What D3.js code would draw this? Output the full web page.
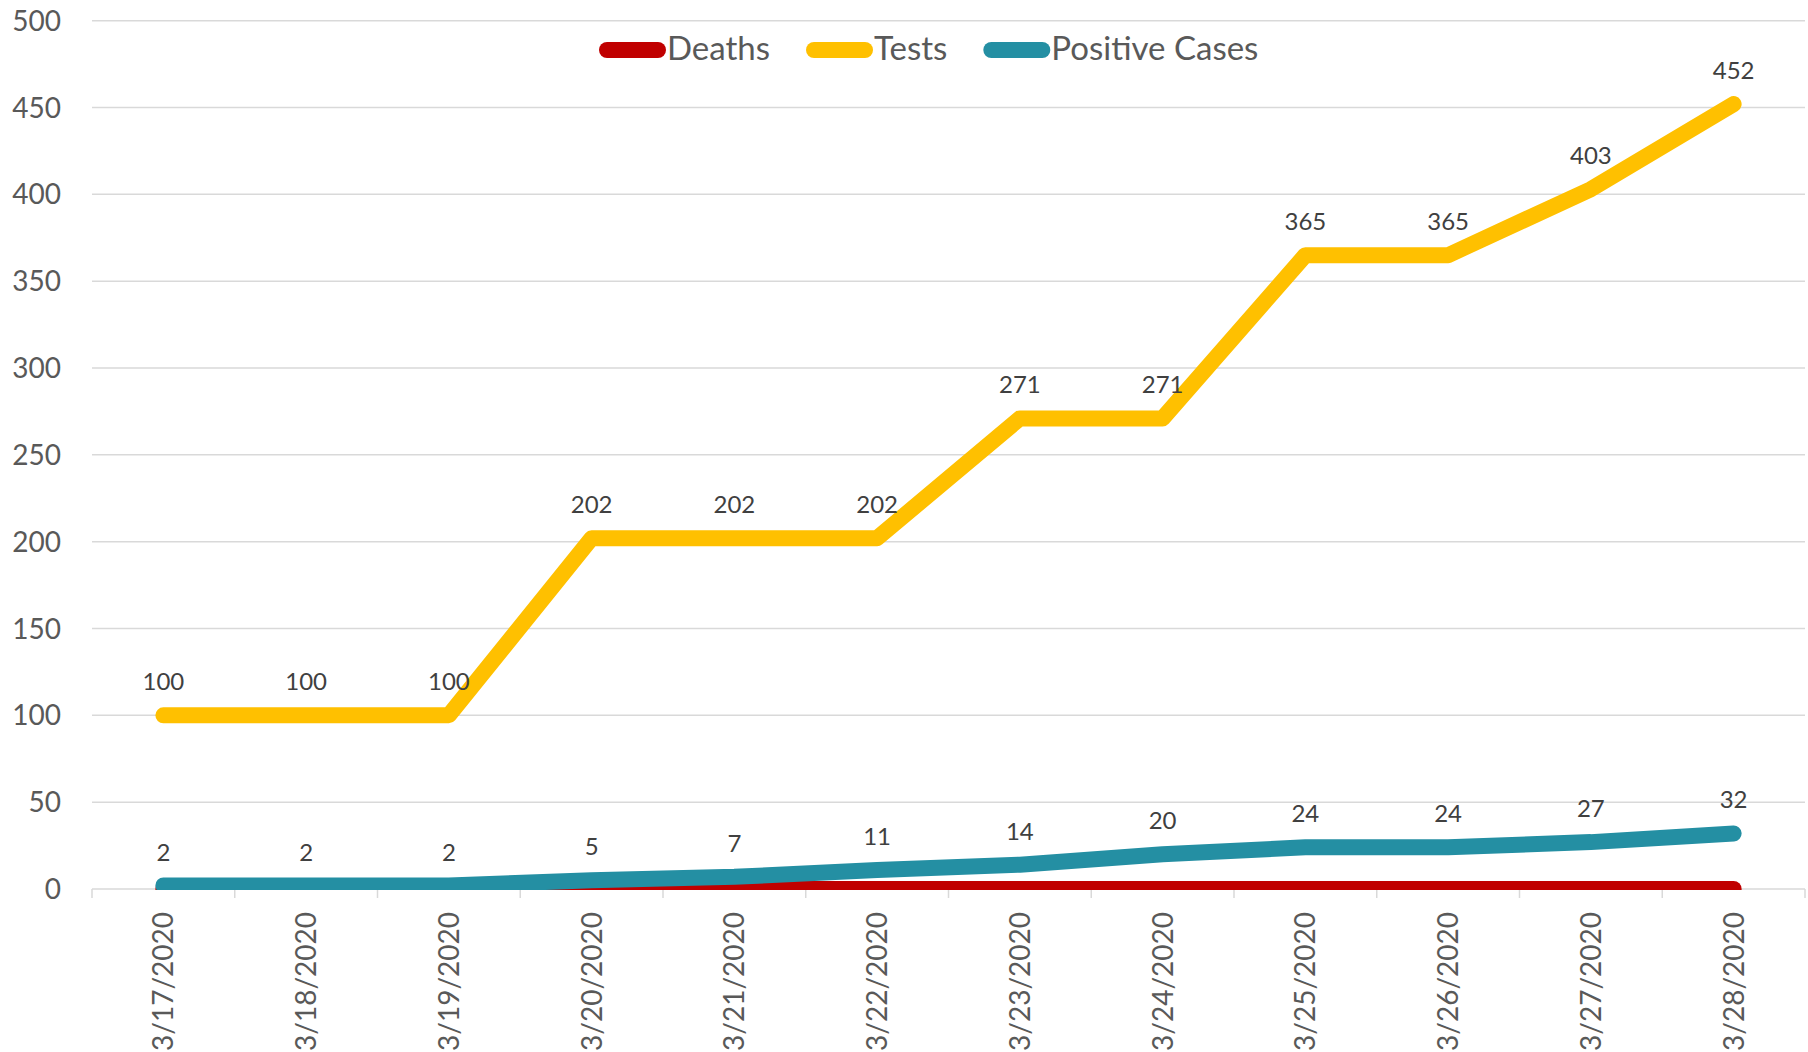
<!DOCTYPE html>
<html>
<head>
<meta charset="utf-8">
<script src="https://cdn.jsdelivr.net/npm/d3@7"></script>
<style>
  html, body { margin: 0; padding: 0; background: #fff; }
  svg { display: block; }
</style>
</head>
<body>
<svg id="chart" width="1808" height="1052"></svg>
<script>
const dates = ["3/17/2020","3/18/2020","3/19/2020","3/20/2020","3/21/2020","3/22/2020",
               "3/23/2020","3/24/2020","3/25/2020","3/26/2020","3/27/2020","3/28/2020"];
const deaths = [0,0,0,0,0,0,0,0,0,0,0,0];
const tests = [100,100,100,202,202,202,271,271,365,365,403,452];
const positives = [2,2,2,5,7,11,14,20,24,24,27,32];
const yTicks = [0,50,100,150,200,250,300,350,400,450,500];
const seriesNames = ["Deaths","Tests","Positive Cases"];
const seriesColors = ["#C00000","#FFC000","#248FA3"];

(function () {
const series = [
  {name: seriesNames[0], values: deaths, color: seriesColors[0], labels: false},
  {name: seriesNames[1], values: tests, color: seriesColors[1], labels: true},
  {name: seriesNames[2], values: positives, color: seriesColors[2], labels: true}
];

const svg = d3.select("#chart");
const pLeft = 92, pRight = 1805, pTop = 20.7, pBottom = 889;
const font = "Lato, 'Open Sans', sans-serif";

const x = d3.scaleBand().domain(dates).range([pLeft, pRight]).paddingInner(0).paddingOuter(0);
const y = d3.scaleLinear().domain([0, 500]).range([pBottom, pTop]);

// gridlines
svg.append("g").selectAll("line").data(yTicks).join("line")
  .attr("x1", pLeft).attr("x2", pRight)
  .attr("y1", d => y(d)).attr("y2", d => y(d))
  .attr("stroke", "#d9d9d9").attr("stroke-width", 1.5);

// y labels
svg.append("g").selectAll("text").data(yTicks).join("text")
  .attr("x", 61).attr("y", d => y(d)).attr("dy", "0.36em")
  .attr("text-anchor", "end")
  .attr("font-family", font).attr("font-size", 28).attr("fill", "#595959")
  .text(d => d);

// x axis ticks at band boundaries
const bounds = dates.map(d => x(d)).concat([pRight]);
svg.append("g").selectAll("line").data(bounds).join("line")
  .attr("x1", d => d).attr("x2", d => d)
  .attr("y1", pBottom).attr("y2", pBottom + 9)
  .attr("stroke", "#d9d9d9").attr("stroke-width", 1.5);

// x labels
svg.append("g").selectAll("text").data(dates).join("text")
  .attr("transform", d => `translate(${x(d) + x.bandwidth()/2},912) rotate(-90)`)
  .attr("text-anchor", "end").attr("dy", "0.36em")
  .attr("font-family", font).attr("font-size", 28).attr("fill", "#595959")
  .text(d => d);

// clip
svg.append("defs").append("clipPath").attr("id", "plotclip")
  .append("rect").attr("x", 0).attr("y", 0).attr("width", 1808).attr("height", pBottom + 1);

const line = d3.line()
  .x((d, i) => x(dates[i]) + x.bandwidth()/2)
  .y(d => y(d));

const lines = svg.append("g").attr("clip-path", "url(#plotclip)");
series.forEach(s => {
  lines.append("path").datum(s.values)
    .attr("d", line)
    .attr("fill", "none").attr("stroke", s.color).attr("stroke-width", 16)
    .attr("stroke-linecap", "round").attr("stroke-linejoin", "round");
});

// data labels
series.filter(s => s.labels).forEach(s => {
  svg.append("g").selectAll("text").data(s.values).join("text")
    .attr("x", (d, i) => x(dates[i]) + x.bandwidth()/2)
    .attr("y", d => y(d) - 25)
    .attr("text-anchor", "middle")
    .attr("font-family", font).attr("font-size", 24).attr("fill", "#404040")
    .text(d => d);
});

// legend
const legend = svg.append("g");
let lx = 599;
const ly = 50;
series.forEach(s => {
  legend.append("line")
    .attr("x1", lx + 8).attr("x2", lx + 59).attr("y1", ly).attr("y2", ly)
    .attr("stroke", s.color).attr("stroke-width", 16).attr("stroke-linecap", "round");
  const t = legend.append("text")
    .attr("x", lx + 68).attr("y", ly - 2).attr("dy", "0.36em")
    .attr("font-family", font).attr("font-size", 33).attr("fill", "#595959")
    .text(s.name);
  const w = t.node().getComputedTextLength();
  lx += 68 + w + 36;
});
})();
</script>
</body>
</html>
